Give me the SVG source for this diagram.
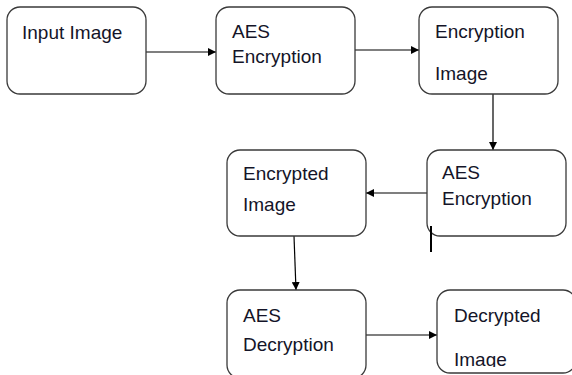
<svg xmlns="http://www.w3.org/2000/svg" width="572" height="375" viewBox="0 0 572 375">
<style>
.box{fill:#fff;stroke:#3a3a3a;stroke-width:1.3}
.t{font-family:"Liberation Sans",Arial,sans-serif;font-size:19px;fill:#141428}
.c{stroke:#000;stroke-width:1.2;fill:none}
</style>
<defs>
<marker id="ah" viewBox="0 0 10 10" refX="10" refY="5" markerWidth="8" markerHeight="8" markerUnits="userSpaceOnUse" orient="auto">
<path d="M0,0 L10,5 L0,10 z" fill="#000"/>
</marker>
<clipPath id="clip7"><rect x="430" y="280" width="142" height="87"/></clipPath>
</defs>
<rect width="572" height="375" fill="#fff"/>
<g id="connectors">
<line class="c" x1="146" y1="52" x2="216" y2="52" marker-end="url(#ah)"/>
<line class="c" x1="355" y1="50" x2="419" y2="50" marker-end="url(#ah)"/>
<line class="c" x1="493" y1="94" x2="493" y2="150" marker-end="url(#ah)"/>
<line class="c" x1="427" y1="193" x2="366" y2="193" marker-end="url(#ah)"/>
<line class="c" x1="294" y1="236" x2="296" y2="290" marker-end="url(#ah)"/>
<line class="c" x1="366" y1="335" x2="437" y2="335" marker-end="url(#ah)"/>
</g>
<g id="n1">
<rect class="box" x="7" y="7" width="139" height="87" rx="13"/>
<text class="t" x="22" y="39">Input Image</text>
</g>
<g id="n2">
<rect class="box" x="216" y="7" width="139" height="87" rx="13"/>
<text class="t" x="232" y="38">AES</text>
<text class="t" x="232" y="63">Encryption</text>
</g>
<g id="n3">
<rect class="box" x="419" y="7" width="139" height="87" rx="13"/>
<text class="t" x="435" y="38">Encryption</text>
<text class="t" x="435" y="80">Image</text>
</g>
<g id="n4">
<rect class="box" x="427" y="150" width="139" height="86" rx="13"/>
<text class="t" x="442" y="179">AES</text>
<text class="t" x="442" y="205">Encryption</text>
<line x1="431" y1="226" x2="431" y2="252" stroke="#000" stroke-width="2"/>
</g>
<g id="n5">
<rect class="box" x="227" y="150" width="139" height="86" rx="13"/>
<text class="t" x="243" y="180">Encrypted</text>
<text class="t" x="243" y="211">Image</text>
</g>
<g id="n6">
<rect class="box" x="227" y="290" width="139" height="88" rx="13"/>
<text class="t" x="243" y="322">AES</text>
<text class="t" x="243" y="351">Decryption</text>
</g>
<g id="n7">
<rect class="box" x="437" y="290" width="139" height="83" rx="13"/>
<text class="t" x="454" y="322">Decrypted</text>
<text class="t" x="454" y="366" clip-path="url(#clip7)">Image</text>
</g>
</svg>
